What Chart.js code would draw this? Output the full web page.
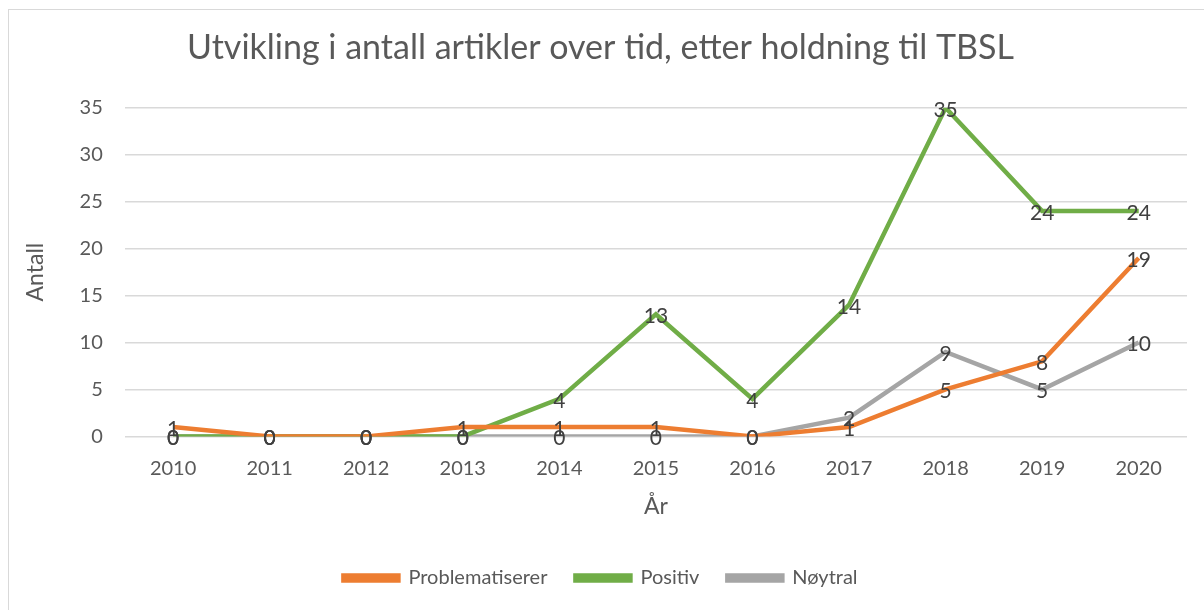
<!DOCTYPE html>
<html>
<head>
<meta charset="utf-8">
<script src="https://cdn.jsdelivr.net/npm/chart.js@4"></script>
<style>
  html, body { margin: 0; padding: 0; background: #fff; }
  #wrap { position: relative; width: 1204px; height: 610px; overflow: hidden; }
  #frame { position: absolute; left: 8px; top: 9px; width: 1300px; height: 700px;
           border-top: 1.5px solid #d9d9d9; border-left: 1.5px solid #d9d9d9; }
  canvas { position: absolute; left: 0; top: 0; }
</style>
</head>
<body>
<div id="wrap">
  <div id="frame"></div>
  <canvas id="chart" width="1204" height="610"></canvas>
</div>
<script>
const years = ["2010", "2011", "2012", "2013", "2014", "2015", "2016", "2017", "2018", "2019", "2020"];
const problematiserer = [1, 0, 0, 1, 1, 1, 0, 1, 5, 8, 19];
const positiv = [0, 0, 0, 0, 4, 13, 4, 14, 35, 24, 24];
const noytral = [0, 0, 0, 0, 0, 0, 0, 2, 9, 5, 10];

const FONT = "Lato, 'Open Sans', sans-serif";
const TXT = "#595959";

// draw the value of each point centred on it
const valueLabels = {
    id: "valueLabels",
    afterDatasetsDraw(chart) {
        const ctx = chart.ctx;
        ctx.save();
        ctx.font = "21px " + FONT;
        ctx.fillStyle = "#404040";
        ctx.textAlign = "center";
        ctx.textBaseline = "middle";
        chart.data.datasets.forEach((ds, i) => {
            const meta = chart.getDatasetMeta(i);
            meta.data.forEach((pt, j) => {
                ctx.fillText(String(ds.data[j]), pt.x, pt.y + 2);
            });
        });
        ctx.restore();
    }
};

const line = (label, data, color) => ({
    label, data,
    borderColor: color,
    backgroundColor: color,
    borderWidth: 4.5,
    pointRadius: 0,
    tension: 0,
    fill: false
});

new Chart(document.getElementById("chart").getContext("2d"), {
    type: "line",
    data: {
        labels: years,
        datasets: [
            line("Problematiserer", problematiserer, "#ED7D31"),
            line("Positiv", positiv, "#70AD47"),
            line("Nøytral", noytral, "#A5A5A5")
        ]
    },
    plugins: [valueLabels],
    options: {
        responsive: false,
        animation: false,
        layout: { padding: { left: 14, right: 17, top: 14, bottom: 12 } },
        plugins: {
            title: {
                display: true,
                text: "Utvikling i antall artikler over tid, etter holdning til TBSL",
                font: { family: FONT, size: 34, weight: "normal" },
                color: TXT,
                padding: { top: 14, bottom: 39 }
            },
            legend: {
                position: "bottom",
                labels: {
                    font: { family: FONT, size: 20 },
                    color: TXT,
                    boxWidth: 55,
                    boxHeight: 5,
                    padding: 28
                }
            },
            tooltip: { enabled: false }
        },
        scales: {
            y: {
                min: 0, max: 35,
                ticks: { stepSize: 5, font: { family: FONT, size: 20 }, color: TXT, padding: 22 },
                grid: { color: "#d9d9d9", lineWidth: 1.5, drawTicks: false },
                border: { display: false },
                title: { display: true, text: "Antall", font: { family: FONT, size: 23 }, color: TXT, padding: 8 }
            },
            x: {
                offset: true,
                ticks: { font: { family: FONT, size: 20 }, color: TXT, padding: 12 },
                grid: { display: false },
                border: { display: false },
                title: { display: true, text: "År", font: { family: FONT, size: 23 }, color: TXT, padding: { top: 0, bottom: 20 } }
            }
        }
    }
});
</script>
</body>
</html>
